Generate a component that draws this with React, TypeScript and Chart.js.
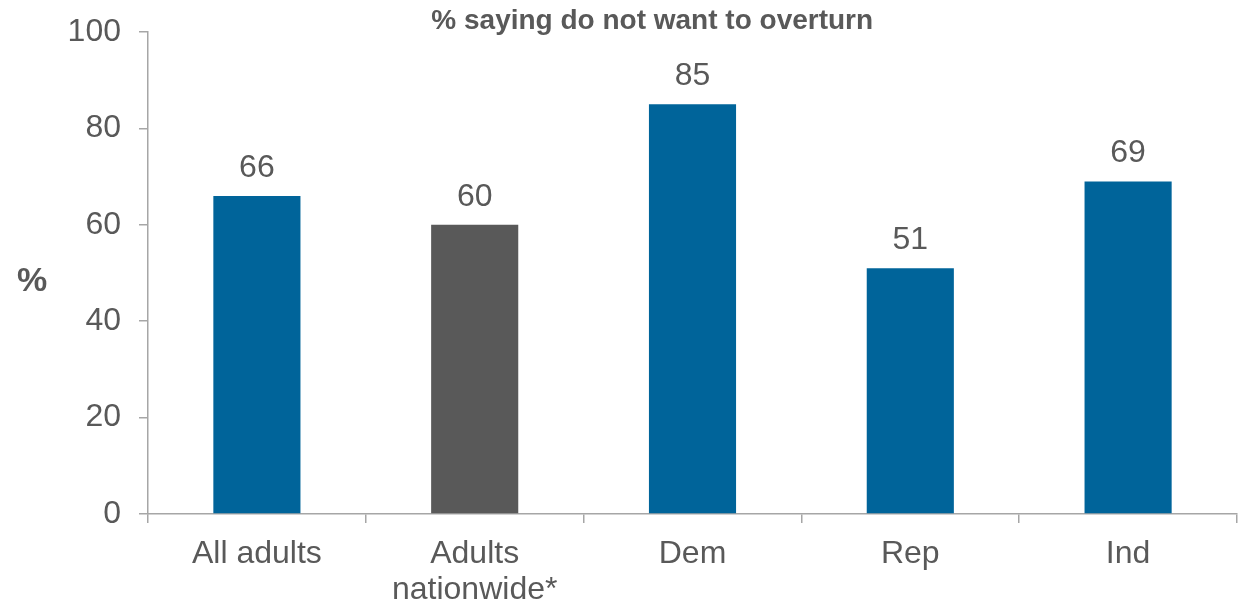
import React, { useEffect, useRef } from "react";
import { Chart, registerables } from "chart.js";

Chart.register(...registerables);

const categories: (string | string[])[] = ["All adults", ["Adults", "nationwide*"], "Dem", "Rep", "Ind"];
const values: number[] = [66, 60, 85, 51, 69];
const barColors: string[] = ["#00649A", "#595959", "#00649A", "#00649A", "#00649A"];
const yTicks: number[] = [0, 20, 40, 60, 80, 100];
const chartTitle = "% saying do not want to overturn";
const yTitle = "%";

const FONT = "'Liberation Sans', Arial, sans-serif";
const TEXT = "#595959";
const AXIS = "#A6A6A6";

export default function App() {
  const ref = useRef<HTMLCanvasElement | null>(null);

  useEffect(() => {
    document.body.style.margin = "0";
    const canvas = ref.current!;
    const overlay = {
      id: "overlay",
      afterDraw(chart: any) {
        const ctx = chart.ctx;
        const area = chart.chartArea;
        const meta = chart.getDatasetMeta(0);
        ctx.save();
        ctx.fillStyle = TEXT;
        ctx.textAlign = "center";
        ctx.textBaseline = "middle";
        ctx.font = `32px ${FONT}`;
        meta.data.forEach((bar: any, i: number) => {
          ctx.fillText(String(values[i]), bar.x, bar.y - 28);
        });
        ctx.font = `bold 28px ${FONT}`;
        ctx.fillText(chartTitle, area.left + (area.right - area.left) * 0.463, 21);
        ctx.font = `bold 34px ${FONT}`;
        ctx.fillText(yTitle, 32, (area.top + area.bottom) / 2 + 9);
        ctx.restore();
      },
    };
    const chart = new Chart(canvas, {
      type: "bar",
      data: {
        labels: categories,
        datasets: [
          {
            data: values,
            backgroundColor: barColors,
            barPercentage: 0.4,
            categoryPercentage: 1,
          },
        ],
      },
      options: {
        animation: false,
        responsive: false,
        layout: { padding: { top: 32, right: 3, left: 0, bottom: 0 } },
        plugins: { legend: { display: false }, title: { display: false }, tooltip: { enabled: false } },
        scales: {
          x: {
            offset: true,
            grid: { drawOnChartArea: false, drawTicks: true, tickLength: 9, offset: true, color: AXIS, lineWidth: 1.5 },
            border: { color: AXIS, width: 1.5 },
            ticks: { color: TEXT, font: { family: FONT, size: 32, lineHeight: 1.12 }, padding: 13, maxRotation: 0, autoSkip: false },
            afterFit(scale: any) {
              scale.height = 89;
            },
          },
          y: {
            min: 0,
            max: 100,
            afterBuildTicks(scale: any) {
              scale.ticks = yTicks.map((v) => ({ value: v }));
            },
            grid: { drawOnChartArea: false, drawTicks: true, tickLength: 9, color: AXIS, lineWidth: 1.5 },
            border: { color: AXIS, width: 1.5 },
            ticks: { color: TEXT, font: { family: FONT, size: 32 }, padding: 18 },
            afterFit(scale: any) {
              scale.width = 148;
              scale.paddingTop = 0;
              scale.paddingBottom = 0;
            },
          },
        },
      },
      plugins: [overlay],
    });
    return () => chart.destroy();
  }, []);

  return (
    <div style={{ position: "fixed", left: 0, top: 0, width: 1240, height: 603, background: "#fff" }}>
      <canvas ref={ref} width={1240} height={603} style={{ width: 1240, height: 603, display: "block" }} />
    </div>
  );
}
